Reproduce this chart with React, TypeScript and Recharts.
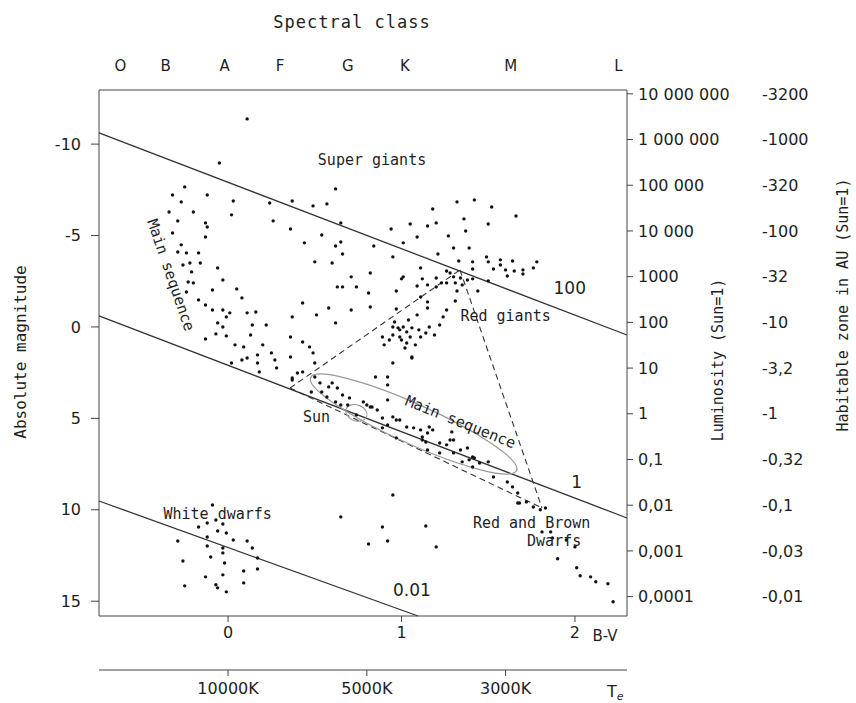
import React from "react";
import { ScatterChart, Scatter, XAxis, YAxis, ReferenceLine, ReferenceDot } from "recharts";

// axes
const spectralClasses = ["O", "B", "A", "F", "G", "K", "M", "L"];
const spectralBV = [-0.62, -0.36, -0.02, 0.3, 0.69, 1.02, 1.63, 2.25];
const bvTicks = [0, 1, 2];
const tempBV = [0, 0.8, 1.6];
const tempLabels = ["10000K", "5000K", "3000K"];
const magTicks = [-10, -5, 0, 5, 10, 15];
const lumMag = [-12.75, -10.25, -7.75, -5.25, -2.75, -0.25, 2.25, 4.75, 7.25, 9.75, 12.25, 14.75];
const lumLabels = ["10 000 000", "1 000 000", "100 000", "10 000", "1000", "100", "10", "1", "0,1", "0,01", "0,001", "0,0001"];
const hzLabels = ["-3200", "-1000", "-320", "-100", "-32", "-10", "-3,2", "-1", "-0,32", "-0,1", "-0,03", "-0,01"];

// stars: [B-V, absolute magnitude]
const superGiants = [
  [0.11, -11.38], [-0.05, -8.97], [-0.25, -7.66], [-0.32, -7.22], [-0.12, -7.22], [-0.27, -6.84], [0.03, -6.89],
  [0.24, -6.78], [0.37, -6.89], [0.49, -6.62], [0.57, -6.73], [0.62, -7.55], [-0.34, -6.29], [-0.2, -6.29],
  [0.02, -6.13], [0.26, -5.8], [0.36, -5.36], [-0.29, -5.8], [-0.13, -5.69], [-0.12, -5.47], [0.65, -5.69],
  [0.54, -5.03], [-0.13, -4.92], [0.44, -4.6], [0.62, -4.43], [0.65, -4.65], [0.66, -3.99], [0.5, -3.56], [0.6, -3.5],
  [0.71, -2.74], [0.63, -2.19], [0.66, -2.19], [0.74, -2.19],
];
const upperMain = [
  [-0.32, -5.14], [-0.27, -4.49], [-0.29, -4.1], [-0.24, -4.05], [-0.22, -3.5], [-0.26, -3.39], [-0.21, -3.01],
  [-0.23, -2.46], [-0.24, -1.91], [-0.2, -2.41], [-0.17, -4.05], [-0.16, -3.5], [-0.06, -3.23], [-0.03, -2.57],
  [-0.17, -1.48], [-0.09, -2.02], [0.05, -2.08], [0.08, -1.59], [-0.13, -1.2], [-0.09, -0.93], [-0.03, -0.93],
  [-0.01, -0.55], [0.01, -0.77], [-0.06, -0.22], [-0.03, 0.0], [0.14, -0.11], [0.16, -0.82], [0.11, -0.77],
  [0.22, -0.11], [0.37, -0.55], [0.43, -1.31], [0.51, -0.66], [0.58, -1.04], [0.62, -0.22], [0.71, -0.93],
  [-0.13, 0.66], [-0.07, 0.38], [-0.01, 0.49], [0.04, 0.98], [0.09, 1.09], [0.13, 0.44], [0.2, 0.98], [0.25, 1.42],
  [0.36, 0.55], [0.43, 0.82], [0.47, 1.09], [0.49, 1.42], [0.08, 1.81], [0.11, 1.7], [0.17, 1.53], [0.17, 1.97],
  [0.18, 2.46], [0.27, 1.81], [0.28, 2.24], [0.02, 1.97], [0.36, 1.64], [0.5, 1.97], [0.4, 2.52], [0.37, 2.79],
];
const giants = [
  [1.32, -6.84], [1.42, -6.95], [1.52, -6.56], [1.66, -6.07], [1.18, -6.45], [1.2, -5.69], [1.05, -5.63],
  [1.15, -5.52], [0.94, -5.36], [1.36, -5.91], [1.37, -5.25], [1.5, -5.63], [1.27, -4.98], [1.09, -4.92],
  [1.01, -4.6], [0.84, -4.43], [1.3, -4.32], [1.39, -4.32], [1.21, -3.99], [0.95, -3.83], [1.33, -3.61],
  [1.41, -3.56], [1.49, -3.83], [1.5, -3.56], [1.57, -3.67], [1.64, -3.61], [1.78, -3.56], [1.11, -3.23],
  [1.41, -3.17], [1.53, -3.17], [1.57, -3.39], [1.6, -3.12], [1.65, -3.06], [1.7, -3.12], [1.76, -3.23],
  [1.7, -2.9], [1.61, -2.79], [1.5, -2.52], [1.26, -3.06], [1.28, -2.95], [1.3, -2.74], [1.34, -2.68],
  [1.38, -2.57], [1.41, -2.63], [1.23, -2.41], [1.2, -2.19], [1.26, -2.41], [1.31, -2.41], [1.35, -2.3],
  [1.01, -2.74], [1.0, -2.63], [1.12, -2.63], [1.15, -2.3], [1.09, -2.24], [0.97, -1.97], [1.2, -2.68],
  [1.44, -1.97], [0.82, -2.95], [0.81, -1.86], [0.82, -1.09], [0.97, -0.98], [1.15, -1.37], [1.15, -1.04],
  [1.31, -1.42], [1.26, -0.93], [1.24, -0.55], [1.22, -0.11], [1.09, -0.66], [1.11, -1.64], [1.32, -1.97],
  [0.95, 0.0], [0.98, 0.05], [1.01, 0.0], [1.03, 0.27], [1.06, 0.05], [1.1, 0.16], [0.95, 0.44], [0.99, 0.55],
  [1.05, 0.55], [1.16, 0.0], [1.19, 0.44], [0.89, 0.55], [1.11, 0.55], [0.93, 0.71], [1.0, 0.71], [1.03, 0.88],
  [1.02, 1.15], [1.06, 1.7], [0.95, 1.97], [0.85, 2.74], [0.92, 3.17], [0.92, 3.99], [0.96, -0.27], [1.04, -0.38],
  [0.9, 0.98], [1.08, 0.98], [1.14, 0.33], [0.99, 0.16],
];
const lowerMain = [
  [0.5, 2.74], [0.37, 2.9], [0.43, 2.46], [0.53, 3.06], [0.6, 3.06], [0.48, 3.56], [0.54, 3.56], [0.58, 3.28],
  [0.63, 3.34], [0.66, 3.72], [0.7, 3.88], [0.57, 3.83], [0.62, 4.1], [0.65, 4.27], [0.69, 4.27], [0.78, 4.1],
  [0.8, 4.27], [0.83, 4.38], [0.86, 4.54], [0.74, 4.81], [0.89, 4.98], [0.95, 4.92], [0.99, 5.09], [0.92, 5.36],
  [1.03, 5.47], [1.07, 5.52], [1.11, 5.63], [1.15, 5.8], [1.18, 5.63], [1.22, 6.35], [1.26, 6.45], [1.3, 6.18],
  [1.34, 6.73], [1.38, 6.62], [0.97, 6.07], [1.12, 6.18], [1.15, 6.73], [1.22, 6.89], [1.3, 6.89], [1.41, 7.11],
  [1.45, 7.44], [1.5, 7.38], [1.35, 7.38], [1.41, 7.66], [1.53, 8.21], [1.61, 8.48], [1.64, 8.75], [1.67, 9.08],
  [1.67, 9.63], [1.72, 9.57], [1.76, 9.85], [0.92, 2.74], [1.06, 1.64], [0.82, 4.38], [0.97, 5.09], [0.89, 5.52],
  [1.12, 6.02], [1.16, 5.47], [1.14, 6.29], [1.28, 6.18], [1.29, 5.74], [1.39, 7.27], [1.42, 7.16], [1.68, 9.63],
  [1.8, 10.0], [1.83, 9.9], [0.95, 9.19], [0.65, 10.39], [0.81, 11.87], [0.89, 10.94], [0.92, 11.71],
  [1.14, 10.89], [1.2, 12.03],
];
const redDwarfs = [
  [1.81, 11.21], [1.86, 11.21], [2.0, 12.03], [1.9, 12.68], [2.01, 13.17], [2.03, 13.61], [2.09, 13.67],
  [2.12, 13.94], [2.19, 14.05], [2.22, 15.03], [1.87, 11.54], [1.95, 11.65],
];
const whiteDwarfs = [
  [-0.09, 9.74], [-0.17, 10.94], [-0.12, 10.72], [-0.07, 10.56], [-0.03, 10.78], [-0.06, 11.16], [-0.01, 11.27],
  [-0.12, 11.49], [0.03, 11.65], [0.11, 11.71], [0.14, 12.09], [-0.29, 11.71], [-0.12, 11.98], [-0.03, 12.36],
  [-0.03, 12.09], [-0.1, 12.58], [-0.26, 12.8], [-0.02, 12.91], [0.09, 13.35], [0.17, 12.64], [0.17, 13.24],
  [-0.13, 13.67], [-0.03, 13.56], [-0.25, 14.16], [-0.07, 14.1], [-0.06, 14.27], [-0.01, 14.49], [0.09, 14.0],
];

// lines of constant radius (Sun = 1)
const radius100 = [{ x: -0.744, y: -10.61 }, { x: 2.3, y: 0.44 }];
const radius1 = [{ x: -0.744, y: -0.6 }, { x: 2.3, y: 10.45 }];
const radius001 = [{ x: -0.744, y: 9.52 }, { x: 1.095, y: 15.81 }];
// dashed triangle corners
const triLeft = { x: 0.357, y: 3.34 };
const triTop = { x: 1.337, y: -3.12 };
const triBottom = { x: 1.81, y: 9.9 };

const xDomain = [-0.744, 2.3];
const yDomain = [-12.96, 15.81];

const mono = "'DejaVu Sans Mono', monospace";
const sans = "'DejaVu Sans', sans-serif";
const ink = "#1e1e1e";
const tickStyle = { fontSize: 16, fill: ink, fontFamily: sans };

const toPoints = (arr) => arr.map(([bv, mag]) => ({ bv, mag }));
const stars = [superGiants, upperMain, giants, lowerMain, redDwarfs, whiteDwarfs].flatMap(toPoints);
// anchors so the extra x axes get a domain and ticks (drawn invisibly)
const specAnchors = spectralBV.map((bv) => ({ bv, mag: 0 }));
const tempAnchors = tempBV.map((bv) => ({ bv, mag: 0 }));

const Dot = (p) => <circle cx={p.cx} cy={p.cy} r={1.7} fill="#111" />;
const NoDot = () => <g />;

function Txt({ x, y, text, angle = 0, size = 15, font = mono, spacing = 0 }) {
  return (
    <text
      x={x}
      y={y}
      transform={angle ? `rotate(${angle} ${x} ${y})` : undefined}
      textAnchor="middle"
      dominantBaseline="central"
      fontFamily={font}
      fontSize={size}
      letterSpacing={spacing}
      fill={ink}
    >
      {text}
    </text>
  );
}

const notes = [
  { text: "Super giants", x: 0.83, y: -9.14, angle: 0, font: mono },
  { text: "Red giants", x: 1.6, y: -0.6, angle: 0, font: mono },
  { text: "Sun", x: 0.51, y: 4.92, angle: 0, font: mono },
  { text: "Main sequence", x: 1.34, y: 5.2, angle: 22, font: mono },
  { text: "Main sequence", x: -0.33, y: -2.84, angle: 71, font: mono },
  { text: "White dwarfs", x: -0.06, y: 10.23, angle: 0, font: mono },
  { text: "Red and Brown", x: 1.75, y: 10.72, angle: 0, font: mono },
  { text: "Dwarfs", x: 1.88, y: 11.71, angle: 0, font: mono },
  { text: "100", x: 1.97, y: -2.13, angle: 0, font: sans },
  { text: "1", x: 2.01, y: 8.48, angle: 0, font: sans },
  { text: "0.01", x: 1.06, y: 14.39, angle: 0, font: sans },
];

const pick = (keys, labels) => (v) => {
  const i = keys.findIndex((k) => Math.abs(k - v) < 1e-6);
  return i >= 0 ? labels[i] : "";
};

export default function App() {
  const ax = { xAxisId: "bv", yAxisId: "mag" };
  return (
    <div style={{ position: "absolute", left: 0, top: 0, background: "#fff" }}>
      <ScatterChart width={856} height={703} margin={{ top: 0, right: 0, bottom: 0, left: 0 }}>
        <XAxis
          xAxisId="spec"
          dataKey="bv"
          orientation="top"
          type="number"
          domain={xDomain}
          allowDataOverflow
          ticks={spectralBV}
          interval={0}
          tickFormatter={pick(spectralBV, spectralClasses)}
          height={90}
          tickLine={false}
          tickSize={0}
          tickMargin={19}
          stroke="#444"
          tick={{ ...tickStyle, fontSize: 15 }}
          label={({ viewBox }) => <Txt x={viewBox.x + 253} y={viewBox.y + 22} text="Spectral class" size={17} spacing={1} />}
        />
        <XAxis
          xAxisId="bv"
          dataKey="bv"
          type="number"
          domain={xDomain}
          allowDataOverflow
          ticks={bvTicks}
          interval={0}
          height={54}
          tickSize={6}
          tickMargin={5}
          stroke="#444"
          tick={tickStyle}
          label={({ viewBox }) => <Txt x={viewBox.x + viewBox.width - 22} y={viewBox.y + 20} text="B-V" font={sans} size={15} />}
        />
        <XAxis
          xAxisId="temp"
          dataKey="bv"
          type="number"
          domain={xDomain}
          allowDataOverflow
          ticks={tempBV}
          interval={0}
          tickFormatter={pick(tempBV, tempLabels)}
          height={33}
          tickSize={6}
          tickMargin={7}
          stroke="#444"
          tick={tickStyle}
          label={({ viewBox }) => (
            <text x={viewBox.x + viewBox.width - 20} y={viewBox.y + 27} fontFamily={sans} fontSize={16} fill={ink}>
              T<tspan fontSize={11} fontStyle="italic" dy={3}>e</tspan>
            </text>
          )}
        />
        <YAxis
          yAxisId="mag"
          dataKey="mag"
          type="number"
          domain={yDomain}
          allowDataOverflow
          reversed
          ticks={magTicks}
          interval={0}
          width={99}
          tickSize={8}
          tickMargin={10}
          stroke="#444"
          tick={tickStyle}
          label={({ viewBox }) => <Txt x={viewBox.x + 20} y={viewBox.y + 262} text="Absolute magnitude" angle={-90} size={16} />}
        />
        <YAxis
          yAxisId="r1"
          orientation="right"
          type="number"
          domain={yDomain}
          allowDataOverflow
          reversed
          ticks={lumMag}
          interval={0}
          tickFormatter={pick(lumMag, lumLabels)}
          width={135}
          tickSize={6}
          tickMargin={5}
          stroke="#444"
          tick={tickStyle}
          label={({ viewBox }) => <Txt x={viewBox.x + 91} y={viewBox.y + 270} text="Luminosity (Sun=1)" angle={-90} size={15} />}
        />
        <YAxis
          yAxisId="r2"
          orientation="right"
          type="number"
          domain={yDomain}
          allowDataOverflow
          reversed
          ticks={lumMag}
          interval={0}
          tickFormatter={pick(lumMag, hzLabels)}
          width={94}
          axisLine={false}
          tickLine={false}
          tickSize={0}
          tickMargin={0}
          tick={tickStyle}
          label={({ viewBox }) => <Txt x={viewBox.x + 81} y={viewBox.y + 215} text="Habitable zone in AU (Sun=1)" angle={-90} size={15} />}
        />

        <Scatter xAxisId="spec" yAxisId="mag" data={specAnchors} shape={NoDot} isAnimationActive={false} />
        <Scatter xAxisId="temp" yAxisId="mag" data={tempAnchors} shape={NoDot} isAnimationActive={false} />

        <ReferenceLine {...ax} segment={radius100} stroke="#333" strokeWidth={1.3} />
        <ReferenceLine {...ax} segment={radius1} stroke="#333" strokeWidth={1.3} />
        <ReferenceLine {...ax} segment={radius001} stroke="#333" strokeWidth={1.3} />
        <ReferenceLine {...ax} segment={[triLeft, triTop]} stroke="#333" strokeWidth={1.1} strokeDasharray="6 4" />
        <ReferenceLine {...ax} segment={[triTop, triBottom]} stroke="#333" strokeWidth={1.1} strokeDasharray="6 4" />
        <ReferenceLine {...ax} segment={[triLeft, triBottom]} stroke="#333" strokeWidth={1.1} strokeDasharray="6 4" />

        <ReferenceDot
          {...ax}
          x={1.07}
          y={5.31}
          r={0}
          shape={(p) => (
            <ellipse cx={p.cx} cy={p.cy} rx={113} ry={20} fill="none" stroke="#9a9a9a" strokeWidth={1.3}
              transform={`rotate(24.3 ${p.cx} ${p.cy})`} />
          )}
        />
        <ReferenceDot
          {...ax}
          x={0.74}
          y={4.7}
          r={0}
          shape={(p) => (
            <ellipse cx={p.cx} cy={p.cy} rx={11} ry={8} fill="none" stroke="#9a9a9a" strokeWidth={1.1}
              transform={`rotate(20 ${p.cx} ${p.cy})`} />
          )}
        />

        <Scatter {...ax} data={stars} shape={Dot} isAnimationActive={false} />

        {notes.map((n, i) => (
          <ReferenceDot
            key={i}
            {...ax}
            x={n.x}
            y={n.y}
            r={0}
            shape={(p) => <Txt x={p.cx} y={p.cy} text={n.text} angle={n.angle} font={n.font} size={n.font === sans ? 17 : 15} />}
          />
        ))}
      </ScatterChart>
    </div>
  );
}
